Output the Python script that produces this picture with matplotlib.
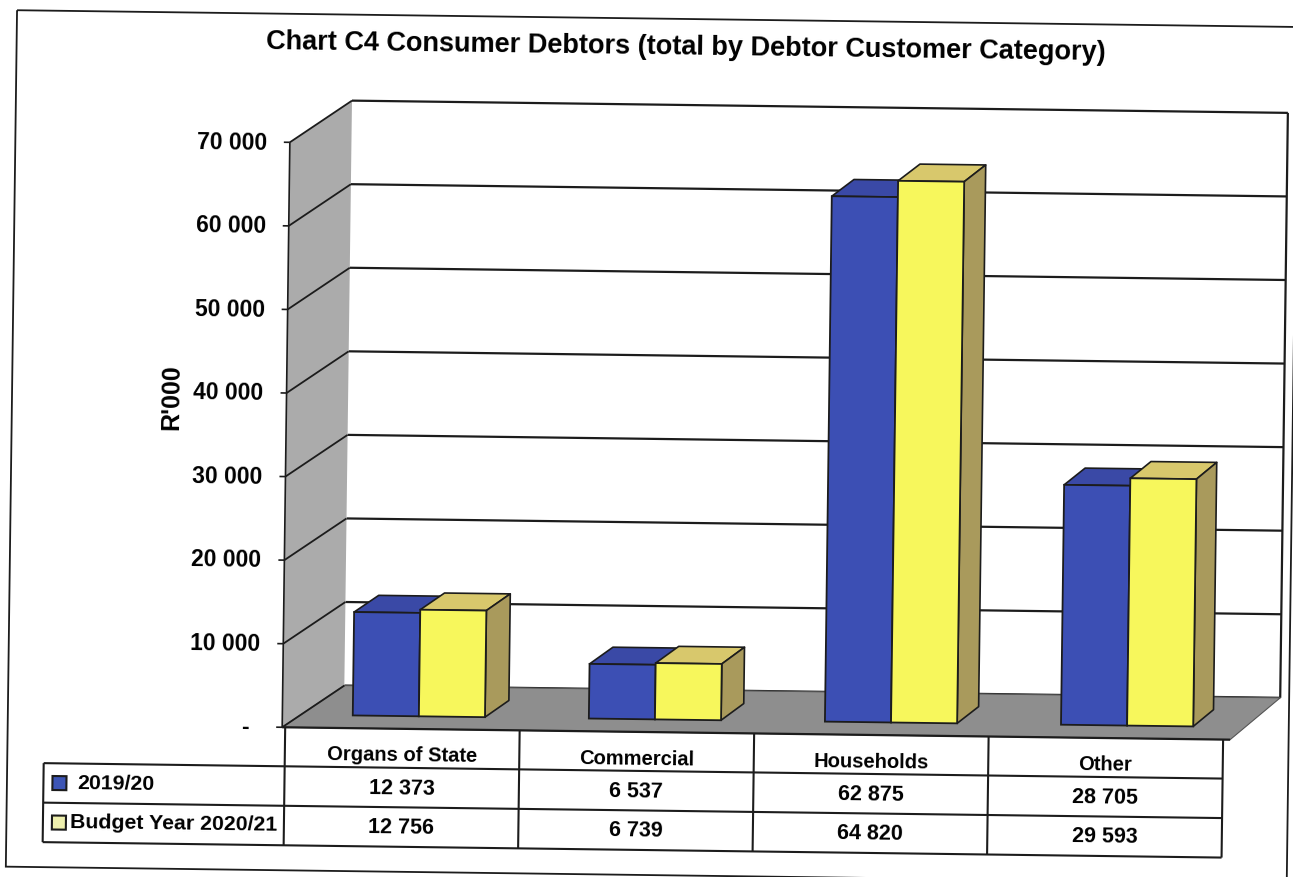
import matplotlib
matplotlib.use("Agg")
import matplotlib.pyplot as plt
from matplotlib.patches import Rectangle
from matplotlib.transforms import Affine2D

# Consumer debtors by customer category, R'000
categories = ["Organs of State", "Commercial", "Households", "Other"]
series = ["2019/20", "Budget Year 2020/21"]
debtors_2019 = [12373, 6537, 62875, 28705]
debtors_2020 = [12756, 6739, 64820, 29593]
yticks = [0, 10000, 20000, 30000, 40000, 50000, 60000, 70000]

title = "Chart C4 Consumer Debtors (total by Debtor Customer Category)"
ylabel = "R'000"

W, H = 1293, 878
FONT = ["Liberation Sans Narrow", "Liberation Sans", "DejaVu Sans"]
TILT = -0.75            # the whole page sits slightly skewed

FRONT = ["#3c4fb4", "#f7f75c"]
TOP = ["#3a49a6", "#d8c86c"]
SIDE = ["#2c3a88", "#a99a5c"]
KEY = ["#3d55b5", "#eef0ae"]
WALL, FLOOR, INK = "#ababab", "#8e8e8e", "#1c1c1c"

# fake-3D layout: front plane scale and depth offset
PX_X = 237.0            # px per category
PX_Y = 0.008357         # px per R'000
X0, Y0 = 286.0, 733.0   # (-0.5, 0) on the page, px from top
DEPTH_Y = 42.5 / PX_Y
BW = 0.28               # bar width (category units)
D0, D1 = 0.30, 0.70     # bar depth span


def depth_x(x):
    return 0.2599 - 0.0127 * (x + 0.5)


def proj(x, y, d):
    return x + d * depth_x(x), y + d * DEPTH_Y


fig = plt.figure(figsize=(W / 100, H / 100), dpi=100)
ax = fig.add_axes([0, 0, 1, 1])
ax.set_xlim(-0.5 - X0 / PX_X, -0.5 + (W - X0) / PX_X)
ax.set_ylim(-(H - Y0) / PX_Y, Y0 / PX_Y)
ax.axis("off")

tilt = Affine2D().rotate_deg_around(W / 2, H / 2, TILT)
tD = ax.transData + tilt
tP = Affine2D().scale(1, -1).translate(0, H) + tilt


def face(pts, fc, z, ec=INK, lw=1.2):
    xs, ys = zip(*pts)
    ax.fill(xs, ys, fc=fc, ec=ec, lw=lw, zorder=z, transform=tD,
            joinstyle="round")


def seg(p, q, z, color=INK, lw=1.6, tr=None):
    ax.plot([p[0], q[0]], [p[1], q[1]], color=color, lw=lw, zorder=z,
            transform=tr or tD, solid_capstyle="butt")


x_lo, x_hi = -0.5, len(categories) - 0.5
y_top = yticks[-1]

# walls and floor
face([proj(x_lo, 0, 0), proj(x_lo, y_top, 0), proj(x_lo, y_top, 1),
      proj(x_lo, 0, 1)], WALL, 2, ec="none")
face([proj(x_lo, 0, 0), proj(x_hi, 0, 0), proj(x_hi, 0, 1),
      proj(x_lo, 0, 1)], FLOOR, 2, ec="#555555", lw=0.8)
for v in yticks:
    seg(proj(x_lo, v, 1), proj(x_hi, v, 1), 1)
    seg(proj(x_lo, v, 0), proj(x_lo, v, 1), 3, lw=1.3)
seg(proj(x_hi, 0, 1), proj(x_hi, y_top, 1), 1)

# bars: front via ax.bar, top and side as polygons
for s, vals in enumerate([debtors_2019, debtors_2020]):
    lefts, widths = [], []
    for i in range(len(categories)):
        xl = i - BW + s * BW
        xr = xl + BW
        a, b = proj(xl, 0, D0)[0], proj(xr, 0, D0)[0]
        lefts.append(a)
        widths.append(b - a)
    for i, v in enumerate(vals):
        xl = i - BW + s * BW
        xr = xl + BW
        z = 4 + s * 2
        face([proj(xl, v, D0), proj(xr, v, D0), proj(xr, v, D1),
              proj(xl, v, D1)], TOP[s], z)
        face([proj(xr, 0, D0), proj(xr, v, D0), proj(xr, v, D1),
              proj(xr, 0, D1)], SIDE[s], z)
    bars = ax.bar(lefts, vals, width=widths, bottom=D0 * DEPTH_Y,
                  align="edge", color=FRONT[s], edgecolor=INK, linewidth=1.3,
                  zorder=5 + s * 2)
    for b in bars:
        b.set_transform(tD)

# value axis on the front plane
seg((x_lo, 0), (x_lo, y_top), 8, lw=1.2)
for v in yticks:
    seg((x_lo - 6 / PX_X, v), (x_lo, v), 8, lw=1.2)
    lab = "-" if v == 0 else f"{v:,}".replace(",", " ")
    gap = 34 if v == 0 else 23
    ax.text(x_lo - gap / PX_X, v, lab, transform=tD, rotation=TILT,
            rotation_mode="anchor", ha="right", va="center",
            fontsize=16.5, fontweight="bold", family=FONT, zorder=9)

ax.text(171, 403, ylabel, transform=tP, rotation=90 + TILT,
        rotation_mode="anchor", ha="center", va="center", fontsize=18,
        fontweight="bold", family=FONT)
ax.text(681, 47, title, transform=tP, rotation=TILT, rotation_mode="anchor",
        ha="center", va="center", fontsize=19.5, fontweight="bold",
        family=FONT)

# data table under the floor
rows_y = [733.5, 772, 811.5, 851]
col_x0, col_x1, key_x = 289, 1227, 48
cw = (col_x1 - col_x0) / len(categories)
seg((x_lo, 0), (x_hi, 0), 8, lw=1.6)
for y in rows_y[1:]:
    seg((key_x, y), (col_x1, y), 8, lw=1.5, tr=tP)
seg((key_x, rows_y[1]), (key_x, rows_y[3]), 8, lw=1.5, tr=tP)
for k in range(len(categories) + 1):
    x = col_x0 + k * cw
    seg((x, rows_y[0]), (x, rows_y[3]), 8, lw=1.5, tr=tP)

for k, name in enumerate(categories):
    cx = col_x0 + (k + 0.5) * cw
    ax.text(cx, 759, name, transform=tP, rotation=TILT, ha="center",
            va="center", fontsize=14.5, fontweight="bold", family=FONT)
    for r, vals in enumerate([debtors_2019, debtors_2020]):
        cy = (rows_y[r + 1] + rows_y[r + 2]) / 2
        ax.text(cx, cy, f"{vals[k]:,}".replace(",", " "), transform=tP,
                rotation=TILT, ha="center", va="center", fontsize=15.5,
                fontweight="bold", family=FONT)

for r, name in enumerate(series):
    cy = (rows_y[r + 1] + rows_y[r + 2]) / 2
    key = Rectangle((57, cy - 7), 14, 14, fc=KEY[r], ec=INK, lw=1.5,
                    transform=tP)
    ax.add_patch(key)
    ax.text(75 + (7 if r == 0 else 0), cy, name, transform=tP, rotation=TILT,
            ha="left", va="center", fontsize=15.3, fontweight="bold",
            family=FONT)

# page frame
frame = Rectangle((11.5, 19.5), 1292.5 - 11.5, 876 - 19.5, fill=False,
                  ec=INK, lw=1.3, transform=tP)
ax.add_patch(frame)

fig.savefig("out.png", dpi=100)
